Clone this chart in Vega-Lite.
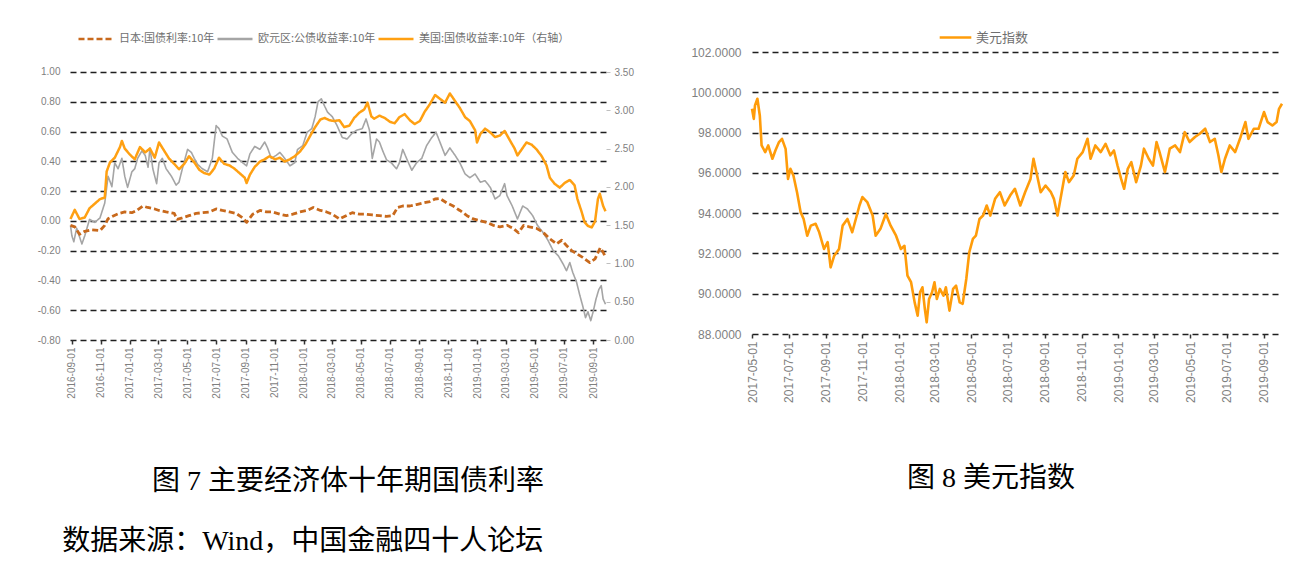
{
  "$schema": "https://vega.github.io/schema/vega-lite/v6.json",
  "background": "white",
  "padding": {"left": 37, "top": 20, "right": 0, "bottom": 0},
  "config": {
    "view": {"stroke": null},
    "axis": {"labelFont": "'Liberation Sans', 'Noto Sans CJK SC'", "labelColor": "#7f7f7f", "title": null},
    "legend": {"labelFont": "'Noto Sans CJK SC'", "labelColor": "#6f6f6f"}
  },
  "title": {"text": "数据来源：Wind，中国金融四十人论坛", "orient": "bottom", "anchor": "start", "fontSize": 28, "font": "'Liberation Serif', 'Noto Sans CJK SC'", "fontWeight": "normal", "color": "#000000", "offset": 32, "dx": 25},
  "spacing": 56,
  "resolve": {"scale": {"color": "independent", "strokeDash": "independent", "x": "independent", "y": "independent"}, "legend": {"color": "independent", "strokeDash": "independent"}},
  "hconcat": [
    {
      "width": 536,
      "height": 288,
      "title": {"text": "图 7 主要经济体十年期国债利率", "orient": "bottom", "anchor": "middle", "frame": "group", "fontSize": 28, "font": "'Liberation Serif', 'Noto Sans CJK SC'", "fontWeight": "normal", "color": "#000000", "offset": 70, "dx": 10},
      "data": {"values": [
        {"d":"2016-08-29","s":"JP","v":-0.03},{"d":"2016-09-07","s":"JP","v":-0.04},{"d":"2016-09-17","s":"JP","v":-0.09},{"d":"2016-09-28","s":"JP","v":-0.07},{"d":"2016-10-12","s":"JP","v":-0.06},{"d":"2016-10-30","s":"JP","v":-0.065},{"d":"2016-11-09","s":"JP","v":-0.03},{"d":"2016-11-16","s":"JP","v":0.015},{"d":"2016-11-28","s":"JP","v":0.035},{"d":"2016-12-09","s":"JP","v":0.05},{"d":"2016-12-21","s":"JP","v":0.06},{"d":"2017-01-05","s":"JP","v":0.055},{"d":"2017-01-15","s":"JP","v":0.07},{"d":"2017-01-28","s":"JP","v":0.1},{"d":"2017-02-07","s":"JP","v":0.09},{"d":"2017-02-22","s":"JP","v":0.08},{"d":"2017-03-03","s":"JP","v":0.07},{"d":"2017-03-18","s":"JP","v":0.06},{"d":"2017-04-04","s":"JP","v":0.05},{"d":"2017-04-10","s":"JP","v":0.01},{"d":"2017-04-21","s":"JP","v":0.02},{"d":"2017-05-05","s":"JP","v":0.035},{"d":"2017-05-20","s":"JP","v":0.05},{"d":"2017-06-02","s":"JP","v":0.055},{"d":"2017-06-17","s":"JP","v":0.06},{"d":"2017-07-01","s":"JP","v":0.08},{"d":"2017-07-14","s":"JP","v":0.07},{"d":"2017-07-29","s":"JP","v":0.06},{"d":"2017-08-12","s":"JP","v":0.05},{"d":"2017-08-26","s":"JP","v":0.02},{"d":"2017-09-03","s":"JP","v":-0.01},{"d":"2017-09-16","s":"JP","v":0.045},{"d":"2017-10-01","s":"JP","v":0.07},{"d":"2017-10-15","s":"JP","v":0.06},{"d":"2017-10-28","s":"JP","v":0.06},{"d":"2017-11-12","s":"JP","v":0.045},{"d":"2017-11-26","s":"JP","v":0.035},{"d":"2017-12-09","s":"JP","v":0.045},{"d":"2017-12-24","s":"JP","v":0.06},{"d":"2018-01-08","s":"JP","v":0.07},{"d":"2018-01-21","s":"JP","v":0.09},{"d":"2018-02-05","s":"JP","v":0.07},{"d":"2018-02-18","s":"JP","v":0.06},{"d":"2018-03-02","s":"JP","v":0.045},{"d":"2018-03-17","s":"JP","v":0.013},{"d":"2018-03-31","s":"JP","v":0.035},{"d":"2018-04-13","s":"JP","v":0.055},{"d":"2018-04-28","s":"JP","v":0.045},{"d":"2018-05-12","s":"JP","v":0.045},{"d":"2018-05-25","s":"JP","v":0.04},{"d":"2018-06-09","s":"JP","v":0.035},{"d":"2018-06-24","s":"JP","v":0.03},{"d":"2018-07-07","s":"JP","v":0.035},{"d":"2018-07-17","s":"JP","v":0.09},{"d":"2018-07-28","s":"JP","v":0.1},{"d":"2018-08-12","s":"JP","v":0.1},{"d":"2018-08-26","s":"JP","v":0.11},{"d":"2018-09-08","s":"JP","v":0.12},{"d":"2018-09-23","s":"JP","v":0.13},{"d":"2018-10-04","s":"JP","v":0.147},{"d":"2018-10-14","s":"JP","v":0.15},{"d":"2018-10-29","s":"JP","v":0.12},{"d":"2018-11-11","s":"JP","v":0.1},{"d":"2018-11-25","s":"JP","v":0.07},{"d":"2018-12-10","s":"JP","v":0.035},{"d":"2018-12-23","s":"JP","v":0.013},{"d":"2019-01-07","s":"JP","v":0.0},{"d":"2019-01-21","s":"JP","v":-0.01},{"d":"2019-02-03","s":"JP","v":-0.03},{"d":"2019-02-17","s":"JP","v":-0.04},{"d":"2019-03-04","s":"JP","v":-0.03},{"d":"2019-03-17","s":"JP","v":-0.05},{"d":"2019-03-28","s":"JP","v":-0.08},{"d":"2019-04-08","s":"JP","v":-0.03},{"d":"2019-04-20","s":"JP","v":-0.04},{"d":"2019-05-05","s":"JP","v":-0.05},{"d":"2019-05-18","s":"JP","v":-0.075},{"d":"2019-06-02","s":"JP","v":-0.12},{"d":"2019-06-16","s":"JP","v":-0.155},{"d":"2019-06-27","s":"JP","v":-0.13},{"d":"2019-07-07","s":"JP","v":-0.165},{"d":"2019-07-18","s":"JP","v":-0.2},{"d":"2019-07-28","s":"JP","v":-0.22},{"d":"2019-08-10","s":"JP","v":-0.245},{"d":"2019-08-25","s":"JP","v":-0.28},{"d":"2019-09-05","s":"JP","v":-0.255},{"d":"2019-09-16","s":"JP","v":-0.18},{"d":"2019-09-22","s":"JP","v":-0.21},{"d":"2019-09-27","s":"JP","v":-0.245},
        {"d":"2016-08-29","s":"EU","v":-0.03},{"d":"2016-09-01","s":"EU","v":-0.1},{"d":"2016-09-05","s":"EU","v":-0.14},{"d":"2016-09-11","s":"EU","v":-0.05},{"d":"2016-09-22","s":"EU","v":-0.155},{"d":"2016-09-28","s":"EU","v":-0.1},{"d":"2016-10-08","s":"EU","v":0.01},{"d":"2016-10-19","s":"EU","v":-0.01},{"d":"2016-10-30","s":"EU","v":0.02},{"d":"2016-11-09","s":"EU","v":0.12},{"d":"2016-11-16","s":"EU","v":0.3},{"d":"2016-11-24","s":"EU","v":0.23},{"d":"2016-11-30","s":"EU","v":0.39},{"d":"2016-12-07","s":"EU","v":0.35},{"d":"2016-12-15","s":"EU","v":0.42},{"d":"2016-12-21","s":"EU","v":0.3},{"d":"2016-12-27","s":"EU","v":0.225},{"d":"2017-01-05","s":"EU","v":0.33},{"d":"2017-01-11","s":"EU","v":0.35},{"d":"2017-01-17","s":"EU","v":0.42},{"d":"2017-01-26","s":"EU","v":0.47},{"d":"2017-02-02","s":"EU","v":0.44},{"d":"2017-02-08","s":"EU","v":0.36},{"d":"2017-02-12","s":"EU","v":0.49},{"d":"2017-02-18","s":"EU","v":0.35},{"d":"2017-02-26","s":"EU","v":0.25},{"d":"2017-03-03","s":"EU","v":0.39},{"d":"2017-03-10","s":"EU","v":0.42},{"d":"2017-03-18","s":"EU","v":0.35},{"d":"2017-03-29","s":"EU","v":0.3},{"d":"2017-04-08","s":"EU","v":0.24},{"d":"2017-04-14","s":"EU","v":0.26},{"d":"2017-04-21","s":"EU","v":0.35},{"d":"2017-05-02","s":"EU","v":0.48},{"d":"2017-05-10","s":"EU","v":0.46},{"d":"2017-05-16","s":"EU","v":0.42},{"d":"2017-05-23","s":"EU","v":0.38},{"d":"2017-06-02","s":"EU","v":0.35},{"d":"2017-06-13","s":"EU","v":0.33},{"d":"2017-06-23","s":"EU","v":0.42},{"d":"2017-07-01","s":"EU","v":0.64},{"d":"2017-07-07","s":"EU","v":0.62},{"d":"2017-07-14","s":"EU","v":0.57},{"d":"2017-07-24","s":"EU","v":0.55},{"d":"2017-08-04","s":"EU","v":0.46},{"d":"2017-08-15","s":"EU","v":0.42},{"d":"2017-08-26","s":"EU","v":0.39},{"d":"2017-09-03","s":"EU","v":0.37},{"d":"2017-09-10","s":"EU","v":0.45},{"d":"2017-09-20","s":"EU","v":0.5},{"d":"2017-10-01","s":"EU","v":0.48},{"d":"2017-10-11","s":"EU","v":0.53},{"d":"2017-10-17","s":"EU","v":0.49},{"d":"2017-10-25","s":"EU","v":0.42},{"d":"2017-11-04","s":"EU","v":0.44},{"d":"2017-11-12","s":"EU","v":0.46},{"d":"2017-11-22","s":"EU","v":0.42},{"d":"2017-12-03","s":"EU","v":0.37},{"d":"2017-12-13","s":"EU","v":0.39},{"d":"2017-12-19","s":"EU","v":0.48},{"d":"2017-12-30","s":"EU","v":0.505},{"d":"2018-01-08","s":"EU","v":0.595},{"d":"2018-01-18","s":"EU","v":0.62},{"d":"2018-01-25","s":"EU","v":0.7},{"d":"2018-01-31","s":"EU","v":0.8},{"d":"2018-02-07","s":"EU","v":0.82},{"d":"2018-02-14","s":"EU","v":0.77},{"d":"2018-02-20","s":"EU","v":0.73},{"d":"2018-03-02","s":"EU","v":0.7},{"d":"2018-03-12","s":"EU","v":0.64},{"d":"2018-03-23","s":"EU","v":0.56},{"d":"2018-04-02","s":"EU","v":0.55},{"d":"2018-04-13","s":"EU","v":0.59},{"d":"2018-04-23","s":"EU","v":0.61},{"d":"2018-05-04","s":"EU","v":0.62},{"d":"2018-05-12","s":"EU","v":0.685},{"d":"2018-05-19","s":"EU","v":0.61},{"d":"2018-05-25","s":"EU","v":0.42},{"d":"2018-06-03","s":"EU","v":0.55},{"d":"2018-06-09","s":"EU","v":0.53},{"d":"2018-06-16","s":"EU","v":0.47},{"d":"2018-06-24","s":"EU","v":0.41},{"d":"2018-07-04","s":"EU","v":0.39},{"d":"2018-07-15","s":"EU","v":0.35},{"d":"2018-07-21","s":"EU","v":0.39},{"d":"2018-07-28","s":"EU","v":0.48},{"d":"2018-08-05","s":"EU","v":0.42},{"d":"2018-08-16","s":"EU","v":0.34},{"d":"2018-08-26","s":"EU","v":0.39},{"d":"2018-09-06","s":"EU","v":0.42},{"d":"2018-09-16","s":"EU","v":0.505},{"d":"2018-09-27","s":"EU","v":0.56},{"d":"2018-10-06","s":"EU","v":0.595},{"d":"2018-10-14","s":"EU","v":0.53},{"d":"2018-10-25","s":"EU","v":0.44},{"d":"2018-11-04","s":"EU","v":0.49},{"d":"2018-11-15","s":"EU","v":0.44},{"d":"2018-11-25","s":"EU","v":0.39},{"d":"2018-12-06","s":"EU","v":0.315},{"d":"2018-12-16","s":"EU","v":0.29},{"d":"2018-12-27","s":"EU","v":0.315},{"d":"2019-01-07","s":"EU","v":0.26},{"d":"2019-01-17","s":"EU","v":0.27},{"d":"2019-01-28","s":"EU","v":0.225},{"d":"2019-02-07","s":"EU","v":0.147},{"d":"2019-02-17","s":"EU","v":0.17},{"d":"2019-02-27","s":"EU","v":0.25},{"d":"2019-03-04","s":"EU","v":0.17},{"d":"2019-03-15","s":"EU","v":0.1},{"d":"2019-03-26","s":"EU","v":0.013},{"d":"2019-04-06","s":"EU","v":0.1},{"d":"2019-04-16","s":"EU","v":0.08},{"d":"2019-04-27","s":"EU","v":0.035},{"d":"2019-05-07","s":"EU","v":-0.03},{"d":"2019-05-18","s":"EU","v":-0.075},{"d":"2019-05-29","s":"EU","v":-0.13},{"d":"2019-06-09","s":"EU","v":-0.2},{"d":"2019-06-20","s":"EU","v":-0.235},{"d":"2019-06-30","s":"EU","v":-0.29},{"d":"2019-07-07","s":"EU","v":-0.335},{"d":"2019-07-14","s":"EU","v":-0.28},{"d":"2019-07-20","s":"EU","v":-0.345},{"d":"2019-07-28","s":"EU","v":-0.41},{"d":"2019-08-04","s":"EU","v":-0.5},{"d":"2019-08-10","s":"EU","v":-0.57},{"d":"2019-08-16","s":"EU","v":-0.65},{"d":"2019-08-21","s":"EU","v":-0.61},{"d":"2019-08-27","s":"EU","v":-0.67},{"d":"2019-09-01","s":"EU","v":-0.61},{"d":"2019-09-07","s":"EU","v":-0.525},{"d":"2019-09-13","s":"EU","v":-0.46},{"d":"2019-09-18","s":"EU","v":-0.435},{"d":"2019-09-22","s":"EU","v":-0.525},{"d":"2019-09-27","s":"EU","v":-0.56},
        {"d":"2016-08-29","s":"US","v":1.58},{"d":"2016-09-07","s":"US","v":1.7},{"d":"2016-09-17","s":"US","v":1.58},{"d":"2016-09-28","s":"US","v":1.6},{"d":"2016-10-08","s":"US","v":1.72},{"d":"2016-10-19","s":"US","v":1.78},{"d":"2016-10-30","s":"US","v":1.84},{"d":"2016-11-09","s":"US","v":1.86},{"d":"2016-11-13","s":"US","v":2.2},{"d":"2016-11-20","s":"US","v":2.32},{"d":"2016-11-30","s":"US","v":2.38},{"d":"2016-12-11","s":"US","v":2.52},{"d":"2016-12-15","s":"US","v":2.6},{"d":"2016-12-21","s":"US","v":2.5},{"d":"2017-01-01","s":"US","v":2.42},{"d":"2017-01-11","s":"US","v":2.36},{"d":"2017-01-22","s":"US","v":2.52},{"d":"2017-02-02","s":"US","v":2.45},{"d":"2017-02-12","s":"US","v":2.5},{"d":"2017-02-22","s":"US","v":2.38},{"d":"2017-03-03","s":"US","v":2.58},{"d":"2017-03-14","s":"US","v":2.47},{"d":"2017-03-24","s":"US","v":2.37},{"d":"2017-04-04","s":"US","v":2.3},{"d":"2017-04-14","s":"US","v":2.23},{"d":"2017-04-25","s":"US","v":2.3},{"d":"2017-05-05","s":"US","v":2.4},{"d":"2017-05-16","s":"US","v":2.32},{"d":"2017-05-27","s":"US","v":2.22},{"d":"2017-06-06","s":"US","v":2.18},{"d":"2017-06-17","s":"US","v":2.16},{"d":"2017-06-27","s":"US","v":2.24},{"d":"2017-07-07","s":"US","v":2.38},{"d":"2017-07-18","s":"US","v":2.3},{"d":"2017-07-29","s":"US","v":2.28},{"d":"2017-08-08","s":"US","v":2.24},{"d":"2017-08-19","s":"US","v":2.18},{"d":"2017-08-30","s":"US","v":2.12},{"d":"2017-09-03","s":"US","v":2.05},{"d":"2017-09-10","s":"US","v":2.16},{"d":"2017-09-20","s":"US","v":2.26},{"d":"2017-10-01","s":"US","v":2.33},{"d":"2017-10-11","s":"US","v":2.36},{"d":"2017-10-21","s":"US","v":2.4},{"d":"2017-11-02","s":"US","v":2.36},{"d":"2017-11-12","s":"US","v":2.38},{"d":"2017-11-22","s":"US","v":2.33},{"d":"2017-12-03","s":"US","v":2.36},{"d":"2017-12-13","s":"US","v":2.4},{"d":"2017-12-24","s":"US","v":2.46},{"d":"2018-01-04","s":"US","v":2.55},{"d":"2018-01-14","s":"US","v":2.66},{"d":"2018-01-25","s":"US","v":2.78},{"d":"2018-02-05","s":"US","v":2.88},{"d":"2018-02-14","s":"US","v":2.9},{"d":"2018-02-24","s":"US","v":2.87},{"d":"2018-03-06","s":"US","v":2.86},{"d":"2018-03-17","s":"US","v":2.87},{"d":"2018-03-27","s":"US","v":2.78},{"d":"2018-04-07","s":"US","v":2.8},{"d":"2018-04-17","s":"US","v":2.9},{"d":"2018-04-28","s":"US","v":2.97},{"d":"2018-05-08","s":"US","v":3.01},{"d":"2018-05-15","s":"US","v":3.1},{"d":"2018-05-23","s":"US","v":2.92},{"d":"2018-05-29","s":"US","v":2.89},{"d":"2018-06-09","s":"US","v":2.93},{"d":"2018-06-20","s":"US","v":2.9},{"d":"2018-07-01","s":"US","v":2.85},{"d":"2018-07-11","s":"US","v":2.83},{"d":"2018-07-21","s":"US","v":2.91},{"d":"2018-08-01","s":"US","v":2.95},{"d":"2018-08-12","s":"US","v":2.87},{"d":"2018-08-22","s":"US","v":2.82},{"d":"2018-09-02","s":"US","v":2.86},{"d":"2018-09-12","s":"US","v":2.98},{"d":"2018-09-23","s":"US","v":3.08},{"d":"2018-10-04","s":"US","v":3.2},{"d":"2018-10-14","s":"US","v":3.15},{"d":"2018-10-25","s":"US","v":3.1},{"d":"2018-11-04","s":"US","v":3.22},{"d":"2018-11-15","s":"US","v":3.12},{"d":"2018-11-25","s":"US","v":3.03},{"d":"2018-12-06","s":"US","v":2.91},{"d":"2018-12-16","s":"US","v":2.86},{"d":"2018-12-27","s":"US","v":2.74},{"d":"2018-12-31","s":"US","v":2.58},{"d":"2019-01-07","s":"US","v":2.69},{"d":"2019-01-17","s":"US","v":2.76},{"d":"2019-01-28","s":"US","v":2.71},{"d":"2019-02-07","s":"US","v":2.65},{"d":"2019-02-17","s":"US","v":2.67},{"d":"2019-02-27","s":"US","v":2.73},{"d":"2019-03-09","s":"US","v":2.62},{"d":"2019-03-20","s":"US","v":2.5},{"d":"2019-03-26","s":"US","v":2.41},{"d":"2019-04-04","s":"US","v":2.49},{"d":"2019-04-14","s":"US","v":2.58},{"d":"2019-04-25","s":"US","v":2.55},{"d":"2019-05-05","s":"US","v":2.49},{"d":"2019-05-16","s":"US","v":2.4},{"d":"2019-05-26","s":"US","v":2.28},{"d":"2019-06-02","s":"US","v":2.12},{"d":"2019-06-12","s":"US","v":2.04},{"d":"2019-06-23","s":"US","v":1.99},{"d":"2019-07-03","s":"US","v":2.05},{"d":"2019-07-14","s":"US","v":2.09},{"d":"2019-07-24","s":"US","v":2.02},{"d":"2019-07-30","s":"US","v":1.84},{"d":"2019-08-08","s":"US","v":1.67},{"d":"2019-08-14","s":"US","v":1.54},{"d":"2019-08-21","s":"US","v":1.49},{"d":"2019-08-29","s":"US","v":1.47},{"d":"2019-09-05","s":"US","v":1.55},{"d":"2019-09-11","s":"US","v":1.84},{"d":"2019-09-15","s":"US","v":1.91},{"d":"2019-09-22","s":"US","v":1.75},{"d":"2019-09-27","s":"US","v":1.68}
      ]},
      "encoding": {
        "x": {"field": "d", "type": "temporal",
          "scale": {"type": "utc", "domain": [{"year": 2016, "month": 8, "date": 28, "utc": true}, {"year": 2019, "month": 9, "date": 28, "utc": true}]},
          "axis": {"format": "%Y-%m-%d", "labelAngle": 270, "tickCount": {"interval": "month", "step": 2}, "grid": false, "domain": false, "ticks": true, "tickColor": "#333333", "tickSize": 4, "tickWidth": 1.5, "labelFontSize": 10, "labelPadding": 3}
        },
        "color": {"field": "s", "type": "nominal",
          "scale": {"domain": ["JP", "EU", "US"], "range": ["#C8691C", "#A5A5A5", "#FFA012"]},
          "legend": {"orient": "none", "legendX": 7, "legendY": -32, "direction": "horizontal", "title": null, "symbolType": "stroke", "symbolSize": 1225, "symbolStrokeWidth": 2.5, "labelFontSize": 11, "labelOffset": 4, "columnPadding": -3,
            "labelExpr": "datum.label == 'JP' ? '日本:国债利率:10年' : datum.label == 'EU' ? '欧元区:公债收益率:10年' : '美国:国债收益率:10年（右轴）'"}
        },
        "strokeDash": {"field": "s", "type": "nominal",
          "scale": {"domain": ["JP", "EU", "US"], "range": [[6, 3], [1, 0], [1, 0]]},
          "legend": {"orient": "none", "legendX": 7, "legendY": -32, "direction": "horizontal", "title": null, "symbolType": "stroke", "symbolSize": 1225, "symbolStrokeWidth": 2.5, "labelFontSize": 11, "labelOffset": 4, "columnPadding": -3,
            "labelExpr": "datum.label == 'JP' ? '日本:国债利率:10年' : datum.label == 'EU' ? '欧元区:公债收益率:10年' : '美国:国债收益率:10年（右轴）'"}
        }
      },
      "layer": [
        {
          "encoding": {
            "y": {"field": "v", "type": "quantitative",
              "scale": {"domain": [-0.8, 1.1343], "nice": false, "zero": false},
              "axis": {"orient": "left", "values": [-0.8, -0.6, -0.4, -0.2, 0, 0.2, 0.4, 0.6, 0.8, 1.0], "labelExpr": "replace(format(datum.value, '.2f'), '−', '-')", "grid": true, "gridDash": [6, 4], "gridColor": "#1f1f1f", "gridWidth": 1.3, "domain": false, "ticks": false, "labelFontSize": 10, "labelPadding": 10}
            }
          },
          "layer": [
            {"transform": [{"filter": "datum.s == 'EU'"}], "mark": {"type": "line", "strokeWidth": 1.6, "strokeJoin": "round"}},
            {"transform": [{"filter": "datum.s == 'JP'"}], "mark": {"type": "line", "strokeWidth": 2.8, "strokeJoin": "round"}}
          ]
        },
        {
          "encoding": {
            "y": {"field": "v", "type": "quantitative",
              "scale": {"domain": [0, 3.7612], "nice": false, "zero": false},
              "axis": {"orient": "right", "values": [0, 0.5, 1.0, 1.5, 2.0, 2.5, 3.0, 3.5], "format": ".2f", "grid": false, "domain": false, "ticks": true, "tickColor": "#bfbfbf", "tickSize": 4, "labelFontSize": 10, "labelPadding": 4}
            }
          },
          "layer": [
            {
              "data": {"values": [{"r": 1}]},
              "mark": {"type": "rule", "strokeWidth": 1},
              "encoding": {
                "x": {"datum": {"year": 2019, "month": 9, "date": 28, "utc": true}, "type": "temporal"},
                "y": {"datum": 0},
                "y2": {"datum": 3.5},
                "color": {"value": "#bfbfbf"},
                "strokeDash": {"value": [1, 0]}
              }
            },
            {
              "transform": [{"filter": "datum.s == 'US'"}],
              "mark": {"type": "line", "strokeWidth": 2.5, "strokeJoin": "round"}
            }
          ]
        }
      ],
      "resolve": {"scale": {"y": "independent"}}
    },
    {
      "width": 530,
      "height": 282,
      "title": {"text": "图 8 美元指数", "orient": "bottom", "anchor": "middle", "frame": "group", "fontSize": 28, "font": "'Liberation Serif', 'Noto Sans CJK SC'", "fontWeight": "normal", "color": "#000000", "offset": 63, "dx": -26},
      "data": {"values": [
        {"d":"2017-05-01","v":99.18},{"d":"2017-05-04","v":98.68},{"d":"2017-05-06","v":99.35},{"d":"2017-05-10","v":99.68},{"d":"2017-05-14","v":98.85},{"d":"2017-05-17","v":97.36},{"d":"2017-05-23","v":97.03},{"d":"2017-05-28","v":97.36},{"d":"2017-06-04","v":96.7},{"d":"2017-06-09","v":97.11},{"d":"2017-06-15","v":97.53},{"d":"2017-06-20","v":97.69},{"d":"2017-06-26","v":97.19},{"d":"2017-06-30","v":95.7},{"d":"2017-07-04","v":96.2},{"d":"2017-07-09","v":95.87},{"d":"2017-07-15","v":95.04},{"d":"2017-07-21","v":94.05},{"d":"2017-07-26","v":93.71},{"d":"2017-08-01","v":92.88},{"d":"2017-08-07","v":93.38},{"d":"2017-08-15","v":93.47},{"d":"2017-08-21","v":93.05},{"d":"2017-08-29","v":92.22},{"d":"2017-09-04","v":92.56},{"d":"2017-09-09","v":91.31},{"d":"2017-09-15","v":91.89},{"d":"2017-09-23","v":92.22},{"d":"2017-09-29","v":93.38},{"d":"2017-10-07","v":93.71},{"d":"2017-10-15","v":93.05},{"d":"2017-10-21","v":93.71},{"d":"2017-10-27","v":94.38},{"d":"2017-11-01","v":94.8},{"d":"2017-11-09","v":94.55},{"d":"2017-11-18","v":93.88},{"d":"2017-11-23","v":92.88},{"d":"2017-12-01","v":93.22},{"d":"2017-12-10","v":93.96},{"d":"2017-12-18","v":93.38},{"d":"2017-12-27","v":92.88},{"d":"2018-01-04","v":92.22},{"d":"2018-01-10","v":92.38},{"d":"2018-01-15","v":90.9},{"d":"2018-01-21","v":90.57},{"d":"2018-01-27","v":89.57},{"d":"2018-02-01","v":88.91},{"d":"2018-02-05","v":90.07},{"d":"2018-02-09","v":90.32},{"d":"2018-02-13","v":89.24},{"d":"2018-02-16","v":88.58},{"d":"2018-02-20","v":89.74},{"d":"2018-02-25","v":90.07},{"d":"2018-03-01","v":90.57},{"d":"2018-03-05","v":89.74},{"d":"2018-03-10","v":90.24},{"d":"2018-03-16","v":89.9},{"d":"2018-03-20","v":90.32},{"d":"2018-03-26","v":89.16},{"d":"2018-04-01","v":90.24},{"d":"2018-04-06","v":90.4},{"d":"2018-04-12","v":89.57},{"d":"2018-04-17","v":89.5},{"d":"2018-04-23","v":90.73},{"d":"2018-04-28","v":92.06},{"d":"2018-05-04","v":92.72},{"d":"2018-05-09","v":92.88},{"d":"2018-05-15","v":93.71},{"d":"2018-05-21","v":93.88},{"d":"2018-05-27","v":94.38},{"d":"2018-06-02","v":93.88},{"d":"2018-06-10","v":94.71},{"d":"2018-06-18","v":95.04},{"d":"2018-06-26","v":94.38},{"d":"2018-07-05","v":94.87},{"d":"2018-07-13","v":95.21},{"d":"2018-07-22","v":94.38},{"d":"2018-07-30","v":95.04},{"d":"2018-08-08","v":95.7},{"d":"2018-08-13","v":96.7},{"d":"2018-08-19","v":95.87},{"d":"2018-08-25","v":95.04},{"d":"2018-09-02","v":95.37},{"d":"2018-09-11","v":95.04},{"d":"2018-09-16","v":94.71},{"d":"2018-09-22","v":93.88},{"d":"2018-09-30","v":95.21},{"d":"2018-10-05","v":96.04},{"d":"2018-10-11","v":95.54},{"d":"2018-10-19","v":95.87},{"d":"2018-10-25","v":96.7},{"d":"2018-11-03","v":97.03},{"d":"2018-11-11","v":97.69},{"d":"2018-11-16","v":96.7},{"d":"2018-11-24","v":97.36},{"d":"2018-12-03","v":97.03},{"d":"2018-12-11","v":97.44},{"d":"2018-12-19","v":96.87},{"d":"2018-12-25","v":97.11},{"d":"2018-12-31","v":96.36},{"d":"2019-01-06","v":95.7},{"d":"2019-01-11","v":95.21},{"d":"2019-01-17","v":96.2},{"d":"2019-01-23","v":96.53},{"d":"2019-01-31","v":95.54},{"d":"2019-02-08","v":96.36},{"d":"2019-02-13","v":97.2},{"d":"2019-02-21","v":96.7},{"d":"2019-02-28","v":96.36},{"d":"2019-03-06","v":97.53},{"d":"2019-03-11","v":97.03},{"d":"2019-03-20","v":96.04},{"d":"2019-03-28","v":97.2},{"d":"2019-04-06","v":97.36},{"d":"2019-04-14","v":97.03},{"d":"2019-04-22","v":98.02},{"d":"2019-04-30","v":97.53},{"d":"2019-05-09","v":97.78},{"d":"2019-05-17","v":97.94},{"d":"2019-05-26","v":98.19},{"d":"2019-06-03","v":97.53},{"d":"2019-06-11","v":97.69},{"d":"2019-06-17","v":96.87},{"d":"2019-06-22","v":96.04},{"d":"2019-06-28","v":96.7},{"d":"2019-07-06","v":97.36},{"d":"2019-07-15","v":97.03},{"d":"2019-07-23","v":97.69},{"d":"2019-08-01","v":98.52},{"d":"2019-08-06","v":97.69},{"d":"2019-08-15","v":98.19},{"d":"2019-08-23","v":98.19},{"d":"2019-09-01","v":99.02},{"d":"2019-09-07","v":98.52},{"d":"2019-09-15","v":98.35},{"d":"2019-09-22","v":98.52},{"d":"2019-09-26","v":99.18},{"d":"2019-10-01","v":99.43}
      ]},
      "mark": {"type": "line", "strokeWidth": 2.6, "strokeJoin": "round"},
      "encoding": {
        "x": {"field": "d", "type": "temporal",
          "scale": {"type": "utc", "domain": [{"year": 2017, "month": 5, "date": 1, "utc": true}, {"year": 2019, "month": 10, "date": 1, "utc": true}]},
          "axis": {"format": "%Y-%m-%d", "labelAngle": 270, "tickCount": {"interval": "month", "step": 2}, "grid": false, "domain": false, "ticks": true, "tickColor": "#333333", "tickSize": 4, "tickWidth": 1.5, "labelFontSize": 12, "labelPadding": 3}
        },
        "y": {"field": "v", "type": "quantitative",
          "scale": {"domain": [88, 102], "nice": false, "zero": false},
          "axis": {"values": [88, 90, 92, 94, 96, 98, 100, 102], "format": ".4f", "grid": true, "gridDash": [6, 4], "gridColor": "#1f1f1f", "gridWidth": 1.3, "domain": false, "ticks": false, "labelFontSize": 12, "labelPadding": 11}
        },
        "color": {"datum": "美元指数", "type": "nominal",
          "scale": {"range": ["#FF9C0A"]},
          "legend": {"orient": "none", "legendX": 186, "legendY": -32, "title": null, "symbolType": "stroke", "symbolSize": 1000, "symbolStrokeWidth": 2.6, "labelFontSize": 13, "labelOffset": 3}
        }
      }
    }
  ]
}
